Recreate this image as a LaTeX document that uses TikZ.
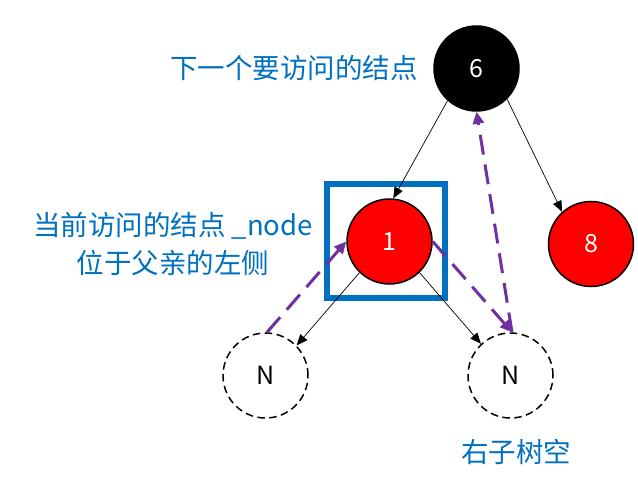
\documentclass[tikz,border=0pt]{standalone}
\usepackage{fontspec}
\setmainfont{Noto Sans CJK SC}
\usetikzlibrary{arrows.meta}
\definecolor{lblue}{HTML}{0070C0}
\definecolor{lpurple}{HTML}{7030A0}
\begin{document}
\begin{tikzpicture}[x=1pt,y=-1pt,
  treenode/.style={circle, draw=black, line width=1.5pt, minimum size=85pt, inner sep=0pt, font=\fontsize{25}{28}\selectfont},
  rednode/.style={treenode, fill=red, text=white},
  blacknode/.style={treenode, fill=black, text=white},
  nilnode/.style={treenode, dash pattern=on 7.5pt off 4.5pt},
  edge/.style={-{Triangle[length=11pt,width=9pt]}, line width=0.7pt},
  trav/.style={draw=lpurple, line width=3pt, dash pattern=on 20pt off 10pt, -{Triangle[length=12pt,width=11pt,fill=lpurple]}},
  lbl/.style={text=lblue, font=\fontsize{27.5}{38}\selectfont, inner sep=0pt},
  hlbox/.style={draw=lblue, line width=5.5pt}
]
\useasboundingbox (0,0) rectangle (638,484);
\draw[hlbox] (327,184) rectangle (445,298);
\node[blacknode] (n6) at (476.5,68.5) {6};
\node[rednode] (n1) at (389.5,241.5) {1};
\node[rednode] (n8) at (591,244) {8};
\node[nilnode] (nl) at (265.5,375.5) {N};
\node[nilnode] (nr) at (510.5,375.5) {N};
\draw[edge] (n6.228) -- (n1.85);
\draw[edge] (n6.315) -- (n8.132);
\draw[edge] (n1.226) -- (nl.44);
\draw[edge] (n1.314) -- (nr.133);
\draw[trav] (nl.88) -- (n1.180);
\draw[trav] (n1.0) -- (nr.88);
\draw[trav] (nr.88) -- (n6.270);
\node[lbl] (t1) at (294,68) {下一个要访问的结点};
\node[lbl, align=center] (t2) at (173,244) {当前访问的结点 \_node\\位于父亲的左侧};
\node[lbl] (t3) at (516,452) {右子树空};
\end{tikzpicture}
\end{document}
